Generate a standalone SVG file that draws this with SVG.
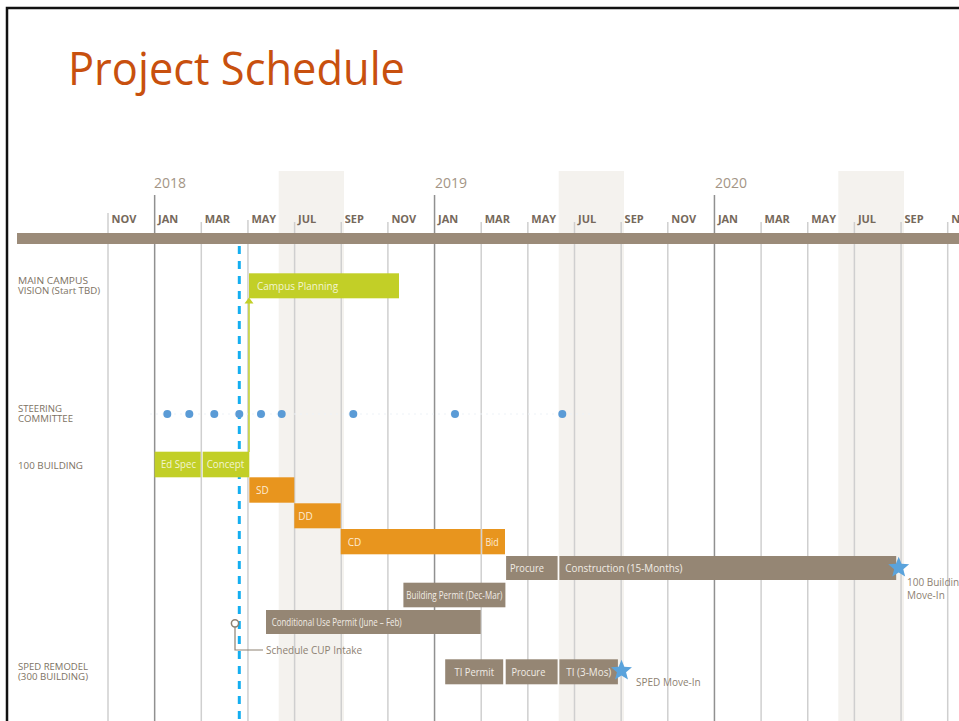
<svg xmlns="http://www.w3.org/2000/svg" width="959" height="721" viewBox="0 0 959 721">
<style>
.grid{stroke:#cfcfcf;stroke-width:1.5}
.year{stroke:#909090;stroke-width:1.5}
.mon{font-family:"Open Sans","DejaVu Sans",sans-serif;font-weight:bold;font-size:11px;fill:#76695b}
.yr{font-family:"Open Sans","DejaVu Sans",sans-serif;font-size:14px;fill:#a39585}
.lbl{font-family:"Open Sans","DejaVu Sans",sans-serif;font-size:9px;fill:#7d7263}
.bt{font-family:"Open Sans","DejaVu Sans",sans-serif;font-size:10px}
.g{fill:#c2cf27}.gt{fill:#f2f5d2}
.o{fill:#e8951e}.ot{fill:#fdebd2}
.b{fill:#958674}.btx{fill:#f1ece5}
.note{font-family:"Open Sans","DejaVu Sans",sans-serif;font-size:10px;fill:#8d8172}
.dot{fill:#5a9bd6}
.star{fill:#5aa3dc}
</style>
<defs>
<path id="star" d="M0,-11 L2.82,-3.88 L10.46,-3.4 L4.56,1.48 L6.47,8.9 L0,4.8 L-6.47,8.9 L-4.56,1.48 L-10.46,-3.4 L-2.82,-3.88 Z"/>
</defs>
<rect width="959" height="721" fill="#ffffff"/>
<rect x="7" y="8" width="1000" height="800" fill="none" stroke="#111111" stroke-width="2.5"/>
<text x="68" y="85" font-family="Open Sans,DejaVu Sans,sans-serif" font-size="46" fill="#c8500e" textLength="337" lengthAdjust="spacingAndGlyphs">Project Schedule</text>

<g id="shading" fill="#f4f2ee">
<rect x="278.7" y="171" width="65.3" height="550"/>
<rect x="558.7" y="171" width="65.3" height="550"/>
<rect x="838.3" y="171" width="65.7" height="550"/>
</g>

<g id="grid">
<line class="grid" x1="108" y1="213" x2="108" y2="721"/>
<line class="year" x1="154.65" y1="195" x2="154.65" y2="721"/>
<line class="grid" x1="201.3" y1="222" x2="201.3" y2="721"/>
<line class="grid" x1="247.95" y1="220" x2="247.95" y2="721"/>
<line class="grid" x1="294.6" y1="222" x2="294.6" y2="721"/>
<line class="grid" x1="341.25" y1="222" x2="341.25" y2="721"/>
<line class="grid" x1="387.9" y1="222" x2="387.9" y2="721"/>
<line class="year" x1="434.55" y1="195" x2="434.55" y2="721"/>
<line class="grid" x1="481.2" y1="222" x2="481.2" y2="721"/>
<line class="grid" x1="527.85" y1="222" x2="527.85" y2="721"/>
<line class="grid" x1="574.5" y1="222" x2="574.5" y2="721"/>
<line class="grid" x1="621.15" y1="222" x2="621.15" y2="721"/>
<line class="grid" x1="667.8" y1="222" x2="667.8" y2="721"/>
<line class="year" x1="714.45" y1="195" x2="714.45" y2="721"/>
<line class="grid" x1="761.1" y1="222" x2="761.1" y2="721"/>
<line class="grid" x1="807.75" y1="222" x2="807.75" y2="721"/>
<line class="grid" x1="854.4" y1="222" x2="854.4" y2="721"/>
<line class="grid" x1="901.05" y1="222" x2="901.05" y2="721"/>
<line class="grid" x1="947.7" y1="222" x2="947.7" y2="721"/>
</g>

<g id="axis">
<text class="yr" x="154" y="188">2018</text>
<text class="yr" x="435" y="188">2019</text>
<text class="yr" x="715" y="188">2020</text>
<text class="mon" x="111.5" y="222.5">NOV</text>
<text class="mon" x="158" y="222.5">JAN</text>
<text class="mon" x="204.8" y="222.5">MAR</text>
<text class="mon" x="251.4" y="222.5">MAY</text>
<text class="mon" x="298" y="222.5">JUL</text>
<text class="mon" x="344.7" y="222.5">SEP</text>
<text class="mon" x="391.4" y="222.5">NOV</text>
<text class="mon" x="438" y="222.5">JAN</text>
<text class="mon" x="484.7" y="222.5">MAR</text>
<text class="mon" x="531.3" y="222.5">MAY</text>
<text class="mon" x="578" y="222.5">JUL</text>
<text class="mon" x="624.6" y="222.5">SEP</text>
<text class="mon" x="671.3" y="222.5">NOV</text>
<text class="mon" x="717.9" y="222.5">JAN</text>
<text class="mon" x="764.6" y="222.5">MAR</text>
<text class="mon" x="811.2" y="222.5">MAY</text>
<text class="mon" x="857.9" y="222.5">JUL</text>
<text class="mon" x="904.5" y="222.5">SEP</text>
<text class="mon" x="951.2" y="222.5">NOV</text>
<rect x="17" y="233" width="942" height="11" fill="#9b8b79"/>
</g>

<g id="row-labels">
<text class="lbl" x="18" y="284" textLength="70" lengthAdjust="spacingAndGlyphs">MAIN CAMPUS</text>
<text class="lbl" x="18" y="294" textLength="82" lengthAdjust="spacingAndGlyphs">VISION (Start TBD)</text>
<text class="lbl" x="18" y="412" textLength="44" lengthAdjust="spacingAndGlyphs">STEERING</text>
<text class="lbl" x="18" y="422" textLength="55" lengthAdjust="spacingAndGlyphs">COMMITTEE</text>
<text class="lbl" x="18" y="469" textLength="65" lengthAdjust="spacingAndGlyphs">100 BUILDING</text>
<text class="lbl" x="18" y="670" textLength="70" lengthAdjust="spacingAndGlyphs">SPED REMODEL</text>
<text class="lbl" x="18" y="680" textLength="70" lengthAdjust="spacingAndGlyphs">(300 BUILDING)</text>
</g>

<g id="connectors">
<line x1="239.3" y1="246" x2="239.3" y2="721" stroke="#14aef0" stroke-width="3" stroke-dasharray="8 7"/>
<line x1="249" y1="452" x2="249" y2="302" stroke="#c2cf27" stroke-width="1.5"/>
<polygon points="244.5,303.5 249,297.5 253.5,303.5" fill="#c2cf27"/>
<line x1="150" y1="414" x2="590" y2="414" stroke="#edf2f7" stroke-width="1" stroke-dasharray="2 4"/>
<path d="M235,627 V650 H263" fill="none" stroke="#8d8172" stroke-width="1.2"/>
</g>

<g id="steering-committee">
<circle class="dot" cx="167.3" cy="414" r="4"/>
<circle class="dot" cx="189.3" cy="414" r="4"/>
<circle class="dot" cx="214.3" cy="414" r="4"/>
<circle class="dot" cx="239.3" cy="414" r="4"/>
<circle class="dot" cx="261" cy="414" r="4"/>
<circle class="dot" cx="281.7" cy="414" r="4"/>
<circle class="dot" cx="353.3" cy="414" r="4"/>
<circle class="dot" cx="455" cy="414" r="4"/>
<circle class="dot" cx="562.3" cy="414" r="4"/>
</g>

<g id="campus-planning">
<rect class="g" x="249" y="273.3" width="150" height="25"/>
<text class="bt gt" x="257" y="289.5">Campus Planning</text>
</g>

<g id="ed-spec">
<rect class="g" x="154.65" y="451.7" width="46" height="25.6"/>
<text class="bt gt" x="161" y="468" textLength="35" lengthAdjust="spacingAndGlyphs">Ed Spec</text>
</g>
<g id="concept">
<rect class="g" x="202.7" y="451.7" width="46.6" height="25.6"/>
<text class="bt gt" x="206.7" y="468" textLength="37.6" lengthAdjust="spacingAndGlyphs">Concept</text>
</g>
<g id="sd">
<rect class="o" x="249.3" y="477.3" width="45" height="25.4"/>
<text class="bt ot" x="256" y="494">SD</text>
</g>
<g id="dd">
<rect class="o" x="294.3" y="503.3" width="46.4" height="25"/>
<text class="bt ot" x="298.3" y="520">DD</text>
</g>
<g id="cd">
<rect class="o" x="340.7" y="529" width="140" height="25.3"/>
<text class="bt ot" x="347.7" y="545.5">CD</text>
</g>
<g id="bid">
<rect class="o" x="482.2" y="529" width="22.8" height="25.3"/>
<text class="bt ot" x="485.4" y="545.5" textLength="13.4" lengthAdjust="spacingAndGlyphs">Bid</text>
</g>
<g id="procure-100">
<rect class="b" x="506.1" y="556" width="51.5" height="24"/>
<text class="bt btx" x="510" y="571.5" textLength="34" lengthAdjust="spacingAndGlyphs">Procure</text>
</g>
<g id="construction">
<rect class="b" x="559.4" y="556" width="336.8" height="24"/>
<text class="bt btx" x="565.3" y="571.5" textLength="117" lengthAdjust="spacingAndGlyphs">Construction (15-Months)</text>
</g>
<g id="move-in-100">
<use href="#star" class="star" transform="translate(898.7,567.7)"/>
<text class="note" x="907" y="586">100 Building</text>
<text class="note" x="907" y="599">Move-In</text>
</g>
<g id="building-permit">
<rect class="b" x="403.4" y="582.7" width="102" height="24.6"/>
<text class="bt btx" x="406.3" y="598.5" textLength="96" lengthAdjust="spacingAndGlyphs">Building Permit (Dec-Mar)</text>
</g>
<g id="cup">
<rect class="b" x="266" y="610" width="214.7" height="24"/>
<text class="bt btx" x="271.7" y="625.5" textLength="130" lengthAdjust="spacingAndGlyphs">Conditional Use Permit (June – Feb)</text>
</g>
<g id="schedule-cup-intake">
<circle cx="235" cy="623.3" r="3.6" fill="#ffffff" stroke="#8d8172" stroke-width="1.5"/>
<text class="note" x="266" y="653.5">Schedule CUP Intake</text>
</g>
<g id="ti-permit">
<rect class="b" x="445.2" y="659.3" width="58" height="25"/>
<text class="bt btx" x="454.6" y="675.5" textLength="39.4" lengthAdjust="spacingAndGlyphs">TI Permit</text>
</g>
<g id="procure-sped">
<rect class="b" x="505.7" y="659.3" width="51.9" height="25"/>
<text class="bt btx" x="511.5" y="675.5" textLength="33.8" lengthAdjust="spacingAndGlyphs">Procure</text>
</g>
<g id="ti-3mos">
<rect class="b" x="559.4" y="659.3" width="58.5" height="25"/>
<text class="bt btx" x="566.3" y="675.5" textLength="45" lengthAdjust="spacingAndGlyphs">TI (3-Mos)</text>
</g>
<g id="sped-move-in">
<use href="#star" class="star" transform="translate(621.5,670.7)"/>
<text class="note" x="636" y="686">SPED Move-In</text>
</g>
</svg>
